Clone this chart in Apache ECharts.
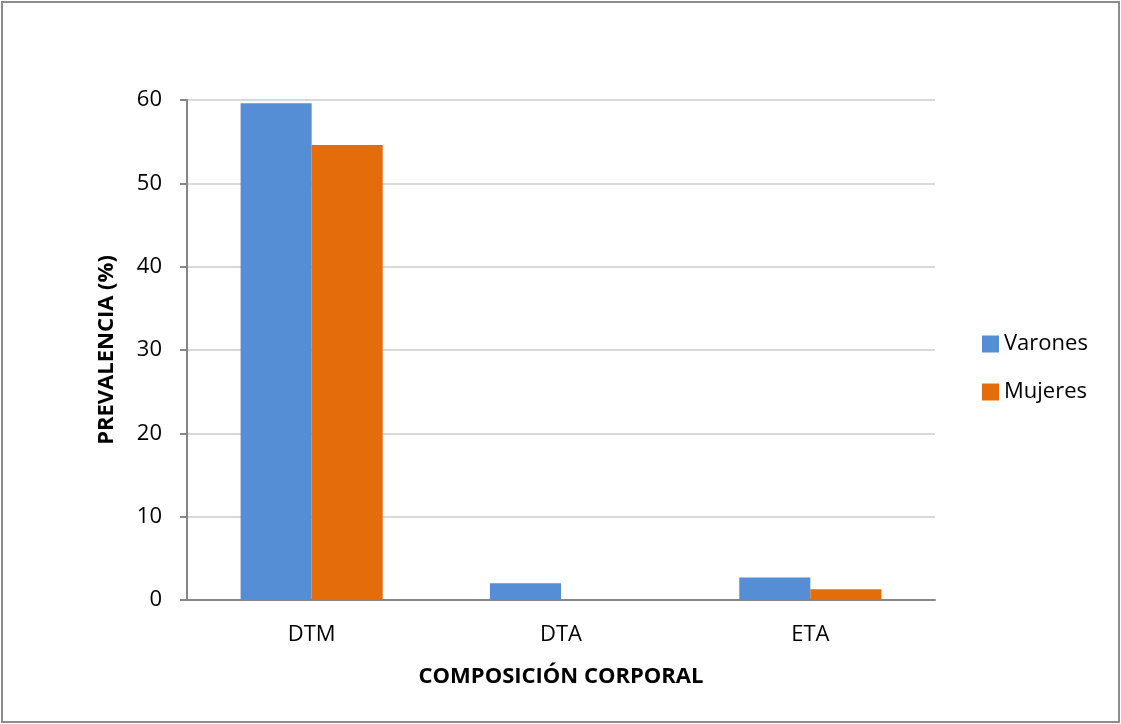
<!DOCTYPE html>
<html><head><meta charset="utf-8">
<script src="https://cdn.jsdelivr.net/npm/echarts@6/dist/echarts.min.js"></script>
<style>html,body{margin:0;padding:0;background:#fff}#c{width:1121px;height:724px}</style>
</head><body><div id="c"></div>
<script>
const categories = ['DTM', 'DTA', 'ETA'];
const varones = [59.6, 2.0, 2.7];
const mujeres = [54.6, 0, 1.3];
const yTicks = [0, 10, 20, 30, 40, 50, 60];
const seriesNames = ['Varones', 'Mujeres'];

const font = 'Open Sans, Liberation Sans, sans-serif';
const chart = echarts.init(document.getElementById('c'), null, {renderer: 'canvas'});
chart.setOption({
  animation: false,
  backgroundColor: '#fff',
  graphic: [{type: 'rect', shape: {x: 2, y: 2, width: 1117, height: 720}, style: {fill: 'none', stroke: '#8c8c8c', lineWidth: 2}, z: 100}],
  grid: {left: 187, right: 186, top: 100, bottom: 124},
  legend: {
    orient: 'vertical', left: 977, top: 328, itemGap: 26, itemWidth: 17, itemHeight: 17,
    icon: 'rect',
    textStyle: {fontFamily: font, fontSize: 22, color: '#000'},
    data: seriesNames
  },
  xAxis: {
    type: 'category', data: categories,
    name: 'COMPOSICIÓN CORPORAL', nameLocation: 'middle', nameGap: 66,
    nameTextStyle: {fontFamily: font, fontSize: 22, fontWeight: 'bold', color: '#000'},
    axisLine: {lineStyle: {color: '#868686', width: 2}},
    axisTick: {show: false},
    axisLabel: {fontFamily: font, fontSize: 22, color: '#000', margin: 24}
  },
  yAxis: {
    type: 'value', min: 0, max: 60, interval: 10,
    name: 'PREVALENCIA (%)', nameLocation: 'middle', nameGap: 69,
    nameTextStyle: {fontFamily: font, fontSize: 22, fontWeight: 'bold', color: '#000'},
    axisLine: {show: true, lineStyle: {color: '#868686', width: 2}},
    axisTick: {show: true, length: 7, lineStyle: {color: '#868686', width: 2}},
    axisLabel: {fontFamily: font, fontSize: 22, color: '#000', margin: 25,
      formatter: v => yTicks.includes(v) ? String(v) : ''},
    splitLine: {lineStyle: {color: '#d9d9d9', width: 2}}
  },
  series: [
    {name: seriesNames[0], type: 'bar', data: varones, barGap: '0%', barCategoryGap: '43%',
     itemStyle: {color: '#558ed5'}},
    {name: seriesNames[1], type: 'bar', data: mujeres, barGap: '0%', barCategoryGap: '43%',
     itemStyle: {color: '#e46c0a'}}
  ]
});
</script></body></html>
